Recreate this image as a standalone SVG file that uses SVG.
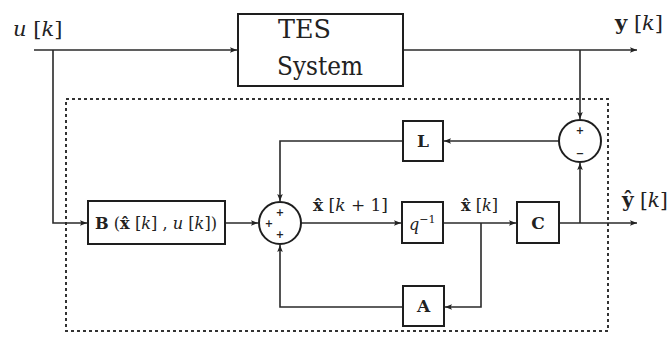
<svg xmlns="http://www.w3.org/2000/svg" width="670" height="339" viewBox="0 0 670 339">
<defs>
<marker id="arr" viewBox="0 0 10 10" refX="10" refY="5" markerWidth="7" markerHeight="7" markerUnits="userSpaceOnUse" orient="auto">
<path d="M0,1 L10,5 L0,9 L2,5 Z" fill="#222"/>
</marker>
</defs>
<style>
.w{fill:none;stroke:#2a2a2a;stroke-width:1.6}
.b{fill:#fff;stroke:#1e1e1e;stroke-width:2}
text.t{font-family:"DejaVu Serif","Liberation Serif",serif;fill:#222}
.bd{font-weight:bold}
.it{font-style:italic}
.s{font-family:"DejaVu Sans",sans-serif;font-weight:bold;fill:#222;font-size:10px;text-anchor:middle}
</style>
<rect id="estimator" x="66" y="99" width="542" height="232" fill="none" stroke="#333" stroke-width="2" stroke-dasharray="3,3"/>
<g id="connectors">
<path class="w" d="M34,50 H237" marker-end="url(#arr)"/>
<path class="w" d="M53,50 V223 H87" marker-end="url(#arr)"/>
<path class="w" d="M404,50 H637" marker-end="url(#arr)"/>
<path class="w" d="M580,50 V119" marker-end="url(#arr)"/>
<path class="w" d="M559,141 H444" marker-end="url(#arr)"/>
<path class="w" d="M402,141 H280 V201" marker-end="url(#arr)"/>
<path class="w" d="M225,223 H258" marker-end="url(#arr)"/>
<path class="w" d="M301,223 H401" marker-end="url(#arr)"/>
<path class="w" d="M443,223 H516" marker-end="url(#arr)"/>
<path class="w" d="M481,223 V307 H445" marker-end="url(#arr)"/>
<path class="w" d="M403,307 H280 V245" marker-end="url(#arr)"/>
<path class="w" d="M559,223 H637" marker-end="url(#arr)"/>
<path class="w" d="M580,223 V163" marker-end="url(#arr)"/>
</g>
<g id="tes">
<rect class="b" x="238" y="14" width="165" height="72"/>
<text class="t" x="278" y="38" font-size="26" textLength="53" lengthAdjust="spacingAndGlyphs">TES</text>
<text class="t" x="277" y="75" font-size="26" textLength="86" lengthAdjust="spacingAndGlyphs">System</text>
</g>
<g id="B">
<rect class="b" x="88" y="201" width="137" height="43"/>
<text class="t" x="95" y="229" font-size="17" textLength="122" lengthAdjust="spacingAndGlyphs"><tspan class="bd">B</tspan> (<tspan class="bd">x̂</tspan> [<tspan class="it">k</tspan>] , <tspan class="it">u</tspan> [<tspan class="it">k</tspan>])</text>
</g>
<g id="sum">
<circle cx="280" cy="223" r="21" fill="#fff" stroke="#1e1e1e" stroke-width="2"/>
<text class="s" x="280" y="216">+</text>
<text class="s" x="269" y="227">+</text>
<text class="s" x="280" y="238">+</text>
</g>
<g id="diff">
<circle cx="580" cy="141" r="21" fill="#fff" stroke="#1e1e1e" stroke-width="2"/>
<text class="s" x="580" y="134">+</text>
<text class="s" x="580" y="157">−</text>
</g>
<g id="L">
<rect class="b" x="403" y="121" width="40" height="40"/>
<text class="t bd" x="423" y="147" font-size="17" text-anchor="middle">L</text>
</g>
<g id="q">
<rect class="b" x="402" y="202" width="41" height="41"/>
<text class="t" x="409" y="230" font-size="16"><tspan class="it">q</tspan><tspan font-size="11" dy="-7">−1</tspan></text>
</g>
<g id="C">
<rect class="b" x="517" y="202" width="42" height="41"/>
<text class="t bd" x="538" y="229" font-size="17" text-anchor="middle">C</text>
</g>
<g id="A">
<rect class="b" x="403" y="286" width="41" height="40"/>
<text class="t bd" x="423.5" y="312" font-size="17" text-anchor="middle">A</text>
</g>
<g id="labels">
<text class="t" x="13" y="36" font-size="21"><tspan class="it">u</tspan> [<tspan class="it">k</tspan>]</text>
<text class="t" x="615" y="30" font-size="21"><tspan class="bd">y</tspan> [<tspan class="it">k</tspan>]</text>
<text class="t" x="622" y="207" font-size="20"><tspan class="bd">ŷ</tspan> [<tspan class="it">k</tspan>]</text>
<text class="t" x="313" y="211" font-size="16" textLength="75" lengthAdjust="spacingAndGlyphs"><tspan class="bd">x̂</tspan> [<tspan class="it">k</tspan> + 1]</text>
<text class="t" x="461" y="211" font-size="16" textLength="37" lengthAdjust="spacingAndGlyphs"><tspan class="bd">x̂</tspan> [<tspan class="it">k</tspan>]</text>
</g>
</svg>
